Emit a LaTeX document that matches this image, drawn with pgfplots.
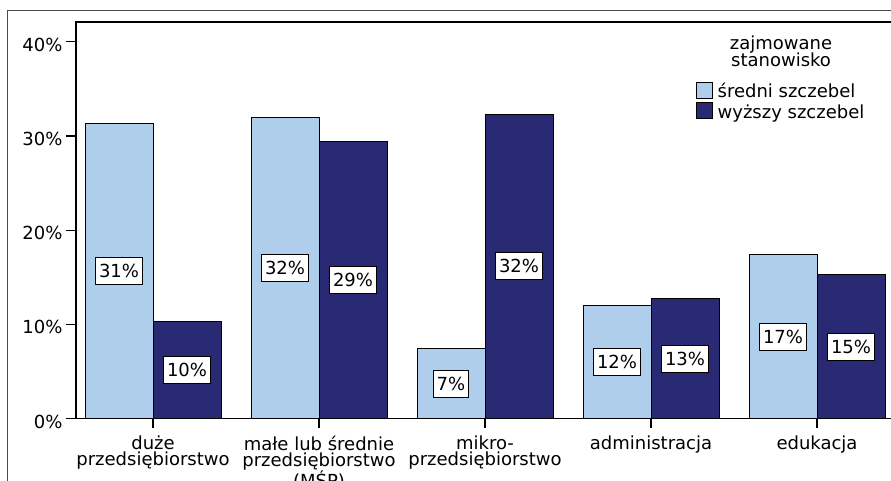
\documentclass[border=0pt]{standalone}
\usepackage{pgfplots}
\pgfplotsset{compat=1.18}
\usepackage{fontspec}
\setmainfont{DejaVu Sans}

\definecolor{srednibar}{RGB}{174,206,236}
\definecolor{wyzszybar}{RGB}{41,42,115}

\newcommand{\chartfont}{\fontsize{18bp}{16bp}\selectfont}

\pgfplotsset{
  boxlegend/.style={legend image code/.code={%
    \draw[##1, line width=0.9bp] (0bp,-0.5bp) rectangle (16bp,15.5bp);}},
}

\begin{document}
\begin{tikzpicture}
\path[use as bounding box, clip] (0,0) rectangle (891bp,481bp);
% outer frame
\draw[black!70, line width=0.8bp] (7bp,-5bp) -- (7bp,471bp) -- (900bp,471bp);

\begin{axis}[
  at={(76bp,62.5bp)}, anchor=south west,
  scale only axis,
  width=818bp, height=396.5bp,
  xmin=-0.4639, xmax=4.4639,
  ymin=0, ymax=42.1,
  ybar=0pt, bar width=68bp,
  axis line style={line width=1.2bp},
  every tick/.style={black, line width=1.2bp},
  major tick length=10bp,
  tick align=outside,
  xtick pos=bottom, ytick pos=left,
  xtick={0,1,2,3,4},
  xticklabels={{duże\\przedsiębiorstwo},{małe lub średnie\\przedsiębiorstwo\\(MŚP)},{mikro-\\przedsiębiorstwo},{administracja},{edukacja}},
  x tick label style={align=center, font=\chartfont, anchor=north, inner xsep=0pt, yshift=-4bp},
  ytick={0,10,20,30,40},
  yticklabels={0\%,10\%,20\%,30\%,40\%},
  y tick label style={font=\chartfont, yshift=-3bp},
  visualization depends on={y \as \rawy},
  nodes near coords={\pgfmathprintnumber[fixed,precision=0,assume math mode=true]{\rawy}\%},
  every node near coord/.append style={font=\chartfont, text=black, fill=white, draw=black,
    line width=0.9bp, inner xsep=3.5bp, inner ysep=0pt, minimum height=27bp,
    anchor=center, yshift={-0.5*\rawy*9.418bp}},
  legend style={draw=none, fill=none, font=\chartfont, row sep=1.2bp, column sep=2.5bp,
    at={(axis description cs:0.758,0.8512)}, anchor=north west,
    inner sep=0pt, cells={anchor=base west}},
]
% średni szczebel
\addplot[fill=srednibar, draw=black, line width=0.9bp, boxlegend]
  coordinates {(0,31.3) (1,32.0) (2,7.4) (3,12.0) (4,17.4)};
\addlegendentry{średni szczebel}
% wyższy szczebel
\addplot[fill=wyzszybar, draw=black, line width=0.9bp, boxlegend]
  coordinates {(0,10.35) (1,29.4) (2,32.3) (3,12.7) (4,15.3)};
\addlegendentry{wyższy szczebel}

\node[font=\chartfont, anchor=base] at (axis description cs:0.8619,0.9294) {zajmowane};
\node[font=\chartfont, anchor=base] at (axis description cs:0.8619,0.8873) {stanowisko};
\end{axis}
\end{tikzpicture}
\end{document}
